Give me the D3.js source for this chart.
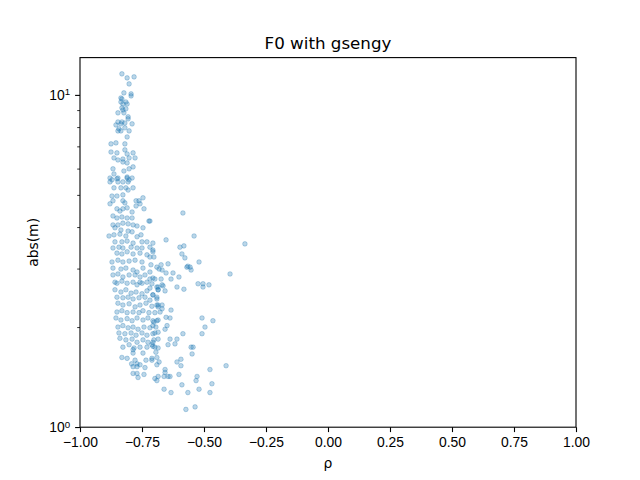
<!DOCTYPE html>
<html>
<head>
  <meta charset="utf-8">
  <title>F0 with gsengy</title>
  <script src="https://d3js.org/d3.v7.min.js"></script>
  <style>
    body { margin: 0; background: #fff; }
    svg { font-family: "DejaVu Sans", sans-serif; }
    .axis .domain { display: none; }
    .axis .tick line { stroke: #000; stroke-width: 1.1; }
    .axis .tick text { fill: #000; font-size: 13.9px; }
    .minor .tick line { stroke-width: 0.8; }
  </style>
</head>
<body>
<div id="chart"></div>
<script>
  // rho / abs(m) pairs, grouped by band
  const upperPoints = [
    [-0.831, 11.57], [-0.810, 11.25], [-0.782, 11.33], [-0.802, 10.79], [-0.823, 10.14],
    [-0.794, 10.07], [-0.794, 9.93], [-0.835, 9.79], [-0.831, 9.72], [-0.835, 9.52],
    [-0.815, 9.52], [-0.810, 9.39], [-0.827, 9.39], [-0.831, 9.14], [-0.815, 9.08],
    [-0.827, 9.01], [-0.847, 8.83], [-0.823, 8.83], [-0.806, 8.59], [-0.806, 8.47],
    [-0.847, 8.29], [-0.831, 8.29], [-0.819, 8.23], [-0.855, 8.12], [-0.835, 8.18],
    [-0.790, 8.18], [-0.843, 7.90], [-0.835, 7.79], [-0.847, 7.79], [-0.802, 7.79],
    [-0.819, 7.96], [-0.810, 7.47], [-0.875, 7.12], [-0.855, 7.17], [-0.819, 7.12],
    [-0.875, 6.73], [-0.851, 6.69], [-0.819, 6.83], [-0.810, 6.64], [-0.786, 6.69],
    [-0.863, 6.46], [-0.847, 6.37], [-0.827, 6.41], [-0.802, 6.46], [-0.778, 6.46],
    [-0.827, 6.28], [-0.810, 6.24], [-0.867, 5.99], [-0.823, 5.90], [-0.802, 5.99],
    [-0.786, 6.07], [-0.863, 5.78], [-0.847, 5.62], [-0.879, 5.62], [-0.810, 5.66]
  ]

  const middlePoints = [
    [-0.871, 5.55], [-0.851, 5.59], [-0.810, 5.62], [-0.802, 5.55], [-0.790, 5.62],
    [-0.879, 5.47], [-0.847, 5.47], [-0.827, 5.47], [-0.806, 5.47], [-0.863, 5.25],
    [-0.835, 5.25], [-0.815, 5.25], [-0.806, 5.17], [-0.786, 5.25], [-0.871, 4.96],
    [-0.851, 4.96], [-0.827, 5.00], [-0.867, 4.80], [-0.827, 4.80], [-0.819, 4.73],
    [-0.879, 4.70], [-0.774, 4.80], [-0.762, 4.80], [-0.746, 4.90], [-0.758, 4.70],
    [-0.774, 4.63], [-0.851, 4.54], [-0.839, 4.47], [-0.827, 4.54], [-0.810, 4.57],
    [-0.790, 4.44], [-0.742, 4.54], [-0.867, 4.32], [-0.851, 4.26], [-0.831, 4.29],
    [-0.810, 4.26], [-0.790, 4.26], [-0.722, 4.17], [-0.867, 4.06], [-0.847, 4.06],
    [-0.827, 4.11], [-0.806, 4.09], [-0.786, 4.06], [-0.770, 4.03], [-0.859, 3.98],
    [-0.835, 3.92], [-0.806, 3.89], [-0.790, 3.87], [-0.746, 3.98], [-0.883, 3.76],
    [-0.863, 3.79], [-0.839, 3.81], [-0.815, 3.76], [-0.770, 3.74], [-0.754, 3.79],
    [-0.859, 3.61], [-0.831, 3.61], [-0.810, 3.63], [-0.786, 3.58], [-0.750, 3.61],
    [-0.730, 3.61], [-0.867, 3.46], [-0.843, 3.48], [-0.827, 3.46], [-0.794, 3.48],
    [-0.770, 3.46], [-0.750, 3.46], [-0.718, 3.48], [-0.851, 3.34], [-0.831, 3.32],
    [-0.810, 3.37], [-0.786, 3.32], [-0.758, 3.34], [-0.730, 3.30], [-0.706, 3.37],
    [-0.871, 3.14], [-0.847, 3.18], [-0.827, 3.14], [-0.802, 3.16], [-0.778, 3.18],
    [-0.750, 3.14], [-0.867, 3.01], [-0.835, 2.99], [-0.815, 3.01], [-0.786, 2.97],
    [-0.770, 2.93], [-0.746, 3.01], [-0.714, 3.08], [-0.867, 2.87], [-0.847, 2.89],
    [-0.827, 2.83], [-0.802, 2.87], [-0.778, 2.87], [-0.758, 2.83], [-0.738, 2.87],
    [-0.859, 2.73], [-0.831, 2.75], [-0.810, 2.71], [-0.786, 2.73], [-0.758, 2.73]
  ]

  const lowerPoints = [
    [-0.851, 2.71], [-0.770, 2.68], [-0.750, 2.71], [-0.730, 2.73], [-0.710, 2.70],
    [-0.690, 2.64], [-0.669, 2.68], [-0.859, 2.59], [-0.835, 2.55], [-0.815, 2.59],
    [-0.794, 2.53], [-0.774, 2.55], [-0.750, 2.52], [-0.730, 2.57], [-0.706, 2.50],
    [-0.685, 2.59], [-0.851, 2.46], [-0.827, 2.45], [-0.806, 2.46], [-0.786, 2.43],
    [-0.762, 2.45], [-0.738, 2.46], [-0.718, 2.41], [-0.690, 2.43], [-0.847, 2.36],
    [-0.827, 2.33], [-0.802, 2.35], [-0.778, 2.30], [-0.758, 2.33], [-0.734, 2.36],
    [-0.710, 2.31], [-0.685, 2.33], [-0.851, 2.22], [-0.831, 2.24], [-0.810, 2.21],
    [-0.786, 2.22], [-0.762, 2.21], [-0.746, 2.24], [-0.722, 2.21], [-0.698, 2.21],
    [-0.677, 2.22], [-0.855, 2.13], [-0.835, 2.10], [-0.810, 2.12], [-0.790, 2.09],
    [-0.770, 2.13], [-0.746, 2.10], [-0.726, 2.13], [-0.702, 2.07], [-0.685, 2.10],
    [-0.847, 2.00], [-0.827, 2.02], [-0.806, 1.99], [-0.786, 2.00], [-0.766, 1.97],
    [-0.742, 2.00], [-0.718, 1.99], [-0.694, 2.00], [-0.843, 1.92], [-0.819, 1.91],
    [-0.794, 1.92], [-0.774, 1.89], [-0.750, 1.92], [-0.730, 1.89], [-0.706, 1.91],
    [-0.685, 1.93], [-0.839, 1.85], [-0.815, 1.83], [-0.790, 1.84], [-0.770, 1.80],
    [-0.746, 1.83], [-0.726, 1.80], [-0.702, 1.83], [-0.827, 1.74], [-0.802, 1.77],
    [-0.782, 1.73], [-0.758, 1.74], [-0.730, 1.74], [-0.706, 1.75], [-0.685, 1.73],
    [-0.831, 1.62], [-0.810, 1.61], [-0.786, 1.67], [-0.778, 1.59], [-0.746, 1.67],
    [-0.734, 1.59], [-0.710, 1.61], [-0.681, 1.57], [-0.786, 1.52], [-0.770, 1.52],
    [-0.758, 1.54], [-0.738, 1.51], [-0.786, 1.45], [-0.770, 1.45], [-0.742, 1.44],
    [-0.698, 1.40], [-0.685, 1.42], [-0.657, 1.49], [-0.637, 1.42], [-0.770, 1.55],
    [-0.766, 1.41], [-0.786, 1.71], [-0.792, 1.55]
  ]

  const sparsePoints = [
    [-0.585, 4.41], [-0.718, 4.17], [-0.540, 3.76], [-0.653, 3.66], [-0.335, 3.56],
    [-0.597, 3.48], [-0.581, 3.51], [-0.706, 3.58], [-0.706, 3.41], [-0.589, 3.32],
    [-0.577, 3.23], [-0.718, 3.25], [-0.702, 3.25], [-0.520, 3.14], [-0.645, 3.10],
    [-0.673, 3.08], [-0.690, 3.03], [-0.565, 3.05], [-0.569, 3.03], [-0.556, 3.03],
    [-0.552, 2.97], [-0.681, 2.99], [-0.669, 2.97], [-0.653, 2.91], [-0.625, 2.91],
    [-0.395, 2.89], [-0.718, 2.93], [-0.718, 2.79], [-0.706, 2.81], [-0.698, 2.79],
    [-0.673, 2.79], [-0.633, 2.79], [-0.601, 2.83], [-0.524, 2.70], [-0.504, 2.70],
    [-0.504, 2.64], [-0.480, 2.68], [-0.609, 2.64], [-0.581, 2.60], [-0.685, 2.64],
    [-0.665, 2.66], [-0.657, 2.57], [-0.685, 2.59], [-0.718, 2.62], [-0.706, 2.50],
    [-0.690, 2.46], [-0.633, 2.25], [-0.690, 2.33], [-0.669, 2.33], [-0.685, 2.30],
    [-0.669, 2.27], [-0.508, 2.13], [-0.464, 2.09], [-0.653, 2.14], [-0.637, 2.13],
    [-0.496, 2.00], [-0.690, 2.09], [-0.706, 2.09], [-0.649, 2.02], [-0.657, 1.97],
    [-0.706, 2.02], [-0.698, 1.92], [-0.585, 1.91], [-0.508, 1.91], [-0.637, 1.84],
    [-0.609, 1.84], [-0.685, 1.84], [-0.645, 1.77], [-0.617, 1.78], [-0.552, 1.74],
    [-0.544, 1.74], [-0.706, 1.80], [-0.710, 1.77], [-0.698, 1.74], [-0.694, 1.68],
    [-0.548, 1.66], [-0.690, 1.62], [-0.710, 1.59], [-0.609, 1.57], [-0.593, 1.60],
    [-0.593, 1.53], [-0.411, 1.53], [-0.690, 1.54], [-0.476, 1.49], [-0.657, 1.46],
    [-0.661, 1.42], [-0.645, 1.42], [-0.601, 1.44], [-0.528, 1.42], [-0.532, 1.38],
    [-0.690, 1.38], [-0.468, 1.35], [-0.589, 1.34], [-0.661, 1.30], [-0.633, 1.27],
    [-0.565, 1.27], [-0.520, 1.30], [-0.476, 1.27], [-0.573, 1.13], [-0.536, 1.15]
  ]

  const xTicks = [-1, -0.75, -0.5, -0.25, 0, 0.25, 0.5, 0.75, 1]
  const xTickLabels = ["\u22121.00", "\u22120.75", "\u22120.50", "\u22120.25", "0.00", "0.25", "0.50", "0.75", "1.00"]
  const yTicks = [1, 10]
  const yTickExponents = ["0", "1"]
  const yMinorTicks = [2, 3, 4, 5, 6, 7, 8, 9]

  const points = upperPoints.concat(middlePoints, lowerPoints, sparsePoints)

  const W = 640, H = 480
  const margin = { left: 80, right: 64, top: 57.6, bottom: 52.8 }
  const width = W - margin.left - margin.right
  const height = H - margin.top - margin.bottom

  const svg = d3.select("#chart").append("svg")
    .attr("width", W)
    .attr("height", H)

  const chart = svg.append("g")
    .attr("transform", `translate(${margin.left},${margin.top})`)

  const xScale = d3.scaleLinear().domain([-1, 1]).range([0, width])
  const yScale = d3.scaleLog().domain([0.999, 12.95]).range([height, 0])

  // points
  chart.selectAll("circle")
    .data(points)
    .enter()
    .append("circle")
    .attr("cx", d => xScale(d[0]))
    .attr("cy", d => yScale(d[1]))
    .attr("r", 2.3)
    .attr("fill", "#1f77b4")
    .attr("fill-opacity", 0.3)
    .attr("stroke", "#1f77b4")
    .attr("stroke-opacity", 0.3)
    .attr("stroke-width", 1.0)

  // x axis
  chart.append("g")
    .attr("class", "axis")
    .attr("transform", `translate(0,${height})`)
    .call(d3.axisBottom(xScale)
      .tickValues(xTicks)
      .tickSize(4.9)
      .tickPadding(4.9)
      .tickFormat((d, i) => xTickLabels[i]))

  // y axis, major
  const yAxis = chart.append("g")
    .attr("class", "axis")
    .call(d3.axisLeft(yScale)
      .tickValues(yTicks)
      .tickSize(4.9)
      .tickPadding(4.9)
      .tickFormat(() => ""))

  yAxis.selectAll(".tick text")
    .each(function(d, i) {
      const t = d3.select(this)
      t.append("tspan").text("10")
      t.append("tspan")
        .attr("dy", "-0.45em")
        .attr("font-size", "9.7px")
        .text(yTickExponents[i])
    })

  // y axis, minor
  chart.append("g")
    .attr("class", "axis minor")
    .call(d3.axisLeft(yScale)
      .tickValues(yMinorTicks)
      .tickSize(2.8)
      .tickFormat(() => ""))

  // frame
  chart.append("rect")
    .attr("width", width)
    .attr("height", height)
    .attr("fill", "none")
    .attr("stroke", "#000")
    .attr("stroke-width", 1.1)

  // title
  svg.append("text")
    .attr("x", margin.left + width / 2)
    .attr("y", margin.top - 8.3)
    .attr("text-anchor", "middle")
    .attr("font-size", "16.7px")
    .text("F0 with gsengy")

  // x label
  svg.append("text")
    .attr("x", margin.left + width / 2)
    .attr("y", 468)
    .attr("text-anchor", "middle")
    .attr("font-size", "13.9px")
    .text("\u03c1")

  // y label
  svg.append("text")
    .attr("transform", `translate(38,${margin.top + height / 2}) rotate(-90)`)
    .attr("text-anchor", "middle")
    .attr("font-size", "13.9px")
    .text("abs(m)")
</script>
</body>
</html>
